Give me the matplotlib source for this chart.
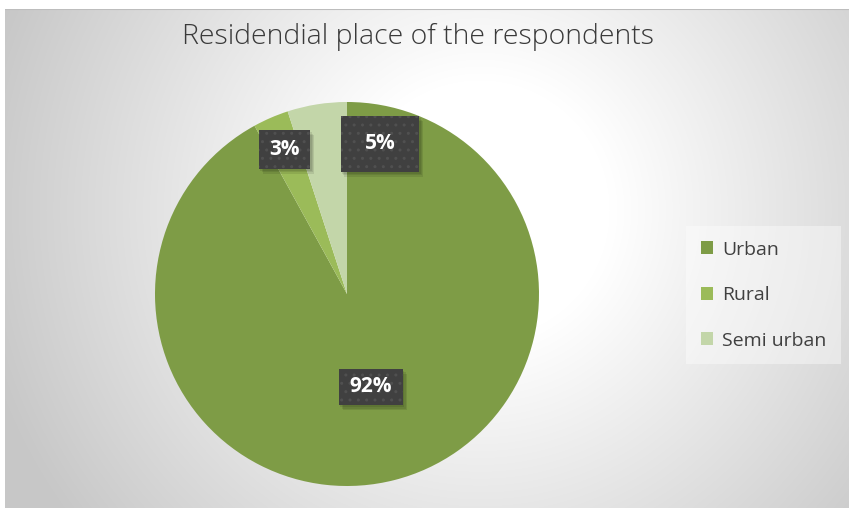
import matplotlib.pyplot as plt
import numpy as np
from matplotlib.patches import Rectangle

categories = ["Urban", "Rural", "Semi urban"]
shares = [92, 3, 5]
colors = ["#7e9c46", "#9bbb59", "#c3d6a9"]
title = "Residendial place of the respondents"

W, H = 849, 509
fig = plt.figure(figsize=(W/100, H/100), dpi=100)
fig.patch.set_facecolor("white")

# radial grey background
bg = fig.add_axes([5/W, 1/H, 844/W, 499/H])
yy, xx = np.mgrid[9:508, 5:849]
d = np.hypot(xx - 480, yy - 210)
t = np.clip((d - 130) / 380, 0, 1)
g = (255 - t*55) / 255
bg.imshow(np.dstack([g, g, g]), aspect="auto", extent=[0, 1, 0, 1])
bg.plot([0, 1], [1, 1], color="#bdbdbd", lw=1.5, transform=bg.transAxes)
bg.set_axis_off()

# pie
ax = fig.add_axes([155/W, 23/H, 384/W, 384/H])
wedges, _ = ax.pie(shares, colors=colors, startangle=90, counterclock=False,
                   radius=1, wedgeprops=dict(linewidth=0))
ax.set_xlim(-1, 1)
ax.set_ylim(-1, 1)
ax.set_aspect("equal")
ax.set_axis_off()

# data labels in dark dotted boxes
label_r = [0.5, 0.82, 0.8]
ang_shift = [0, 0, -21.4]
box_wh = [(0.333, 0.19), (0.266, 0.2), (0.41, 0.29)]
for w, s, r, sh, (bw, bh) in zip(wedges, shares, label_r, ang_shift, box_wh):
    a = np.deg2rad((w.theta1 + w.theta2) / 2 + sh)
    x, y = r*np.cos(a), r*np.sin(a)
    for k in range(3):
        o = 0.008 + 0.006*k
        ax.add_patch(Rectangle((x - bw/2 + o, y - bh/2 - o*1.3), bw, bh,
                               facecolor="black", alpha=0.09, linewidth=0, zorder=3))
    ax.add_patch(Rectangle((x - bw/2, y - bh/2), bw, bh, facecolor="#404040",
                           edgecolor="#505050", hatch="..", linewidth=0, zorder=4))
    ax.text(x, y, f"{s}%", ha="center", va="center", color="white",
            fontsize=15, fontweight="bold", family="Open Sans", zorder=5)

fig.text(418/W, 1 - 37/H, title, ha="center", va="center", fontsize=20.5,
         color="#3a3a3a", family="Open Sans", fontweight="light")

leg = fig.legend(wedges, categories, loc="upper left", bbox_to_anchor=(686/W, 1 - 226/H),
                 borderaxespad=0, frameon=True, fancybox=False,
                 prop=dict(family="Open Sans", size=14),
                 handlelength=0.65, handleheight=0.65, handletextpad=0.45,
                 labelspacing=1.42, borderpad=0.75)
leg.get_frame().set_facecolor("white")
leg.get_frame().set_alpha(0.4)
leg.get_frame().set_linewidth(0)
for txt in leg.get_texts():
    txt.set_color("#404040")

fig.savefig("out.png", dpi=100)
